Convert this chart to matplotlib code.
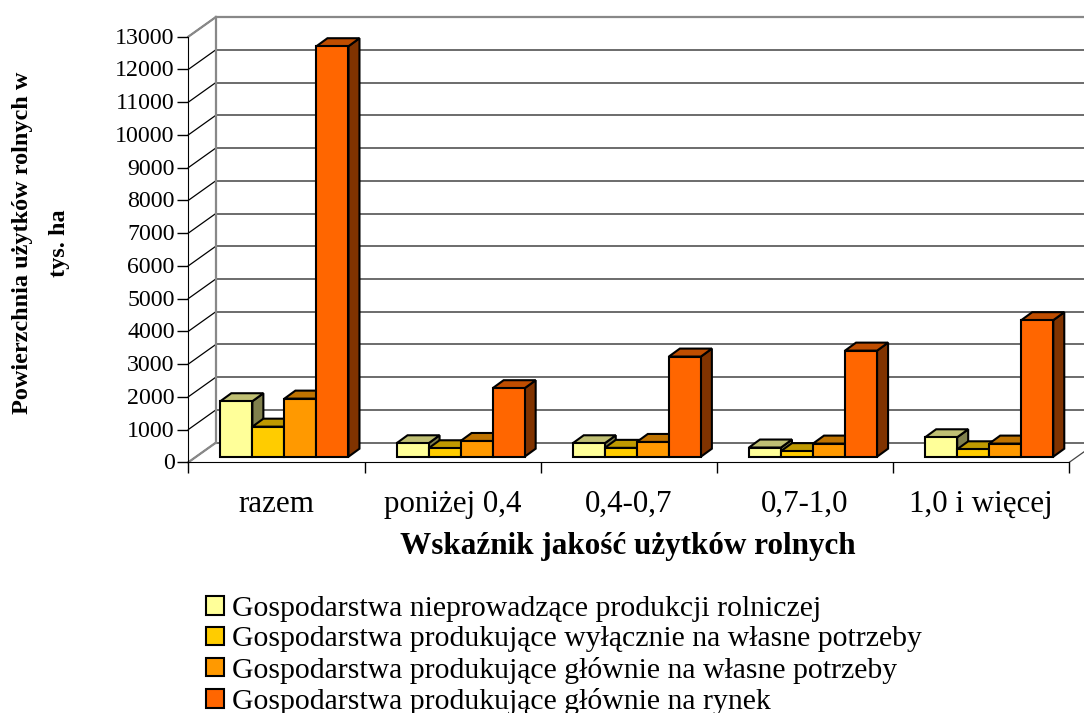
import matplotlib
matplotlib.use("Agg")
import matplotlib.pyplot as plt
from matplotlib.patches import Polygon
from matplotlib.transforms import Affine2D

plt.rcParams['font.family'] = ['Liberation Serif', 'DejaVu Serif']

categories = ["razem", "poniżej 0,4", "0,4-0,7", "0,7-1,0", "1,0 i więcej"]
nieprowadzace = [1694, 410, 410, 280, 593]
wlasne_wylacznie = [917, 257, 270, 170, 226]
wlasne_glownie = [1774, 480, 450, 400, 400]
rynek = [12538, 2092, 3058, 3240, 4170]
series_names = ["Gospodarstwa nieprowadzące produkcji rolniczej",
                "Gospodarstwa produkujące wyłącznie na własne potrzeby",
                "Gospodarstwa produkujące głównie na własne potrzeby",
                "Gospodarstwa produkujące głównie na rynek"]
yticks = list(range(0, 14000, 1000))

front = ["#FFFF99", "#FFCC00", "#FF9900", "#FF6600"]
top = ["#BFBF73", "#BF9900", "#BF7300", "#BF4D00"]
side = ["#80804D", "#806600", "#804D00", "#803300"]

W, H = 1084, 713
fig = plt.figure(figsize=(W / 100, H / 100), dpi=100)
ax = fig.add_axes([188.3 / W, (H - 462.3) / H, 881 / W, 425.6 / H])
ax.set_xlim(0, 5)
ax.set_ylim(0, 13000)

# glebokosc wykresu w pikselach
wall = (27.5, 19.6)
bar_off = (8, 5.6)
bar_depth = (11, 8)
bar_w = 32 / 176
start = 24 / 176


def to_px(x, y, off=(0, 0)):
    px = ax.transData.transform((x, y))
    return (px[0] + off[0], px[1] + off[1])


def poly(pts, **kw):
    ax.add_patch(Polygon(pts, closed=True, transform=Affine2D(), clip_on=False, **kw))


# sciany i siatka
shift = Affine2D().translate(*wall)
for v in yticks:
    ax.plot([0, 5], [v, v], transform=ax.transData + shift, color="#444444", lw=1.1,
            clip_on=False, zorder=0.5)
    a, b = to_px(0, v), to_px(0, v, wall)
    ax.plot([a[0], b[0]], [a[1], b[1]], transform=Affine2D(), color="black", lw=0.9,
            clip_on=False, zorder=0.6)
for v in (0, 13000):
    a, b = to_px(0, v), to_px(0, v, wall)
    ax.plot([a[0], b[0]], [a[1], b[1]], transform=Affine2D(), color="#888888", lw=1.6,
            clip_on=False, zorder=0.7)
ax.plot([0, 5], [13000, 13000], transform=ax.transData + shift, color="#888888", lw=1.6,
        clip_on=False, zorder=0.7)
ax.plot([0, 0], [0, 13000], transform=ax.transData + shift, color="#888888", lw=1.6,
        clip_on=False, zorder=0.7)
a, b = to_px(5, 0), to_px(5, 0, wall)
ax.plot([a[0], b[0]], [a[1], b[1]], transform=Affine2D(), color="#444444", lw=0.9,
        clip_on=False, zorder=0.7)

# slupki
values = [nieprowadzace, wlasne_wylacznie, wlasne_glownie, rynek]
z = 3
for c in range(len(categories)):
    for s, vals in enumerate(values):
        x0 = c + start + s * bar_w
        x1 = x0 + bar_w
        v = vals[c]
        d = (bar_off[0] + bar_depth[0], bar_off[1] + bar_depth[1])
        poly([to_px(x1, 0, bar_off), to_px(x1, v, bar_off), to_px(x1, v, d), to_px(x1, 0, d)],
             facecolor=side[s], edgecolor="black", lw=1.5, zorder=z)
        poly([to_px(x0, v, bar_off), to_px(x1, v, bar_off), to_px(x1, v, d), to_px(x0, v, d)],
             facecolor=top[s], edgecolor="black", lw=1.5, zorder=z + 0.1)
        ax.bar(x0, v, width=bar_w, align="edge", color=front[s], edgecolor="black", lw=1.5,
               transform=ax.transData + Affine2D().translate(*bar_off), clip_on=False,
               zorder=z + 0.2, label=series_names[s] if c == 0 else None)
        z += 1
ax.set_xlim(0, 5)
ax.set_ylim(0, 13000)

for sp in ("top", "right"):
    ax.spines[sp].set_visible(False)
ax.patch.set_visible(False)
ax.set_yticks(yticks)
ax.set_yticklabels([str(v) for v in yticks], fontsize=17.2)
ax.set_xticks(range(6))
ax.set_xticklabels([])
ax.set_xticks([i + 0.5 for i in range(5)], categories, minor=True, fontsize=22.3)
ax.tick_params(axis="both", which="major", length=8, width=1, color="black")
ax.tick_params(axis="y", pad=1.8)
ax.tick_params(axis="x", which="minor", length=0, pad=20)
for lab in ax.get_yticklabels():
    lab.set_transform(lab.get_transform() + Affine2D().translate(0, 1))

fig.text(628 / W, 1 - 546.5 / H, "Wskaźnik jakość użytków rolnych", fontsize=22.4, fontweight="bold",
         ha="center", va="center")
fig.text(41 / W, 1 - 243 / H, "Powierzchnia użytków rolnych w\ntys. ha", fontsize=17.5, fontweight="bold",
         rotation=90, ha="center", va="center", multialignment="center", linespacing=1.95)

fig.legend(loc="upper left", bbox_to_anchor=(206 / W, 1 - 596 / H), frameon=False, fontsize=21.4,
           handlelength=0.6, handleheight=0.58, handletextpad=0.26, labelspacing=0.145,
           borderpad=0, borderaxespad=0)

fig.savefig("out.png", dpi=100)
